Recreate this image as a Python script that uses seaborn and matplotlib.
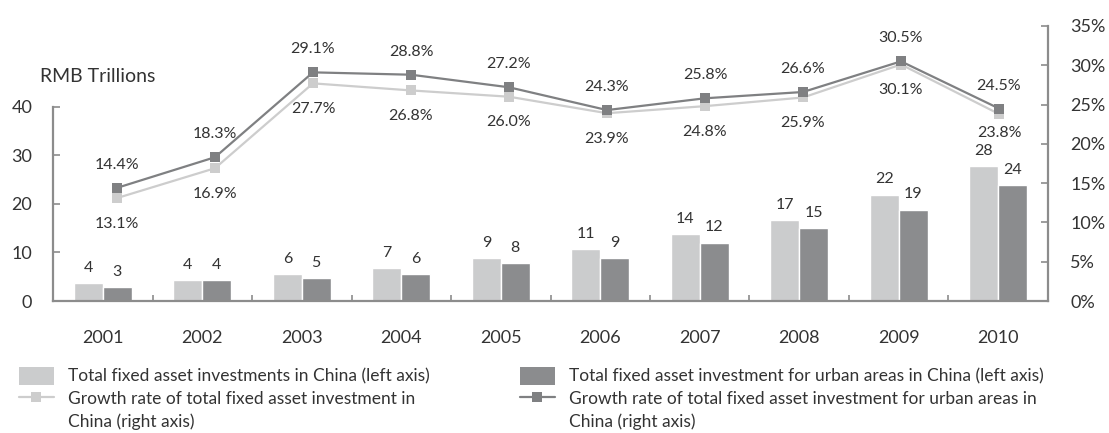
import matplotlib
matplotlib.use('Agg')
import matplotlib.pyplot as plt
import seaborn as sns
import pandas as pd
import numpy as np
from matplotlib.patches import Patch
from matplotlib.lines import Line2D
from matplotlib.ticker import FuncFormatter

years = ['2001', '2002', '2003', '2004', '2005', '2006', '2007', '2008', '2009', '2010']
total_inv = [3.7, 4.3, 5.6, 6.8, 8.9, 10.7, 13.8, 16.7, 21.9, 27.8]
urban_inv = [2.9, 4.3, 4.7, 5.6, 7.8, 8.9, 12.0, 15.05, 18.8, 23.9]
total_growth = [13.1, 16.9, 27.7, 26.8, 26.0, 23.9, 24.8, 25.9, 30.1, 23.8]
urban_growth = [14.4, 18.3, 29.1, 28.8, 27.2, 24.3, 25.8, 26.6, 30.5, 24.5]
left_ticks = [0, 10, 20, 30, 40]
right_ticks = [0, 5, 10, 15, 20, 25, 30, 35]

lab_total_bar = 'Total fixed asset investments in China (left axis)'
lab_urban_bar = 'Total fixed asset investment for urban areas in China (left axis)'
lab_total_line = 'Growth rate of total fixed asset investment in'
lab_urban_line = 'Growth rate of total fixed asset investment for urban areas in'
lab_cont = 'China (right axis)'

sns.set_theme(style='white')
plt.rcParams['font.family'] = ['Lato', 'DejaVu Sans']

TXT = '#333333'
LIGHT = '#cbcccd'
DARK = '#8b8c8e'
LIGHT_LINE = '#cdcdcd'
DARK_LINE = '#7f8082'
SPINE = '#8c8c8c'

fig = plt.figure(figsize=(11.09, 4.33), dpi=100)
fig.subplots_adjust(left=53/1109, right=1048/1109, bottom=132/433, top=407/433)
ax = fig.add_subplot(111)

df = pd.DataFrame({
    'year': years * 2,
    'value': total_inv + urban_inv,
    'series': [lab_total_bar] * len(years) + [lab_urban_bar] * len(years),
})
sns.barplot(data=df, x='year', y='value', hue='series', palette=[LIGHT, DARK],
            width=0.58, saturation=1, ax=ax, legend=False)
for c in ax.containers:
    ax.bar_label(c, fmt='%.0f', padding=6, fontsize=11.5, color=TXT)

ax.set_xlim(-0.5, 9.5)
ax.set_ylim(0, 56.7)
ax.set_yticks(left_ticks)
ax.set_xlabel('')
ax.set_ylabel('')
for s in ['top', 'right']:
    ax.spines[s].set_visible(False)
for s in ['left', 'bottom']:
    ax.spines[s].set_color(SPINE)
    ax.spines[s].set_linewidth(1.6)
ax.spines['left'].set_bounds(0, 40)
ax.tick_params(axis='y', direction='in', length=5, width=1.2, color=SPINE,
               labelsize=13, labelcolor=TXT, pad=15, left=True)
ax.tick_params(axis='x', which='major', length=0, labelsize=13, labelcolor=TXT, pad=21)
ax.set_xticks(np.arange(0.5, 9.5, 1.0), minor=True)
ax.tick_params(axis='x', which='minor', direction='in', length=4.5, width=1.2,
               color=SPINE, bottom=True)

ax2 = fig.add_axes(ax.get_position())
ax2.patch.set_visible(False)
xpos = np.arange(len(years))
sns.lineplot(x=xpos, y=np.array(total_growth) / 100, ax=ax2, color=LIGHT_LINE,
             marker='s', markersize=7, markeredgewidth=0, linewidth=1.6)
sns.lineplot(x=xpos, y=np.array(urban_growth) / 100, ax=ax2, color=DARK_LINE,
             marker='s', markersize=7, markeredgewidth=0, linewidth=1.6)
ax2.set_xlim(-0.653, 9.5)
ax2.set_ylim(0, 0.35)
ax2.set_yticks(np.array(right_ticks) / 100)
ax2.yaxis.set_major_formatter(FuncFormatter(lambda v, p: f'{v*100:.0f}%'))
ax2.yaxis.tick_right()
ax2.xaxis.set_visible(False)
for s in ['top', 'left', 'bottom']:
    ax2.spines[s].set_visible(False)
ax2.spines['right'].set_color(SPINE)
ax2.spines['right'].set_linewidth(1.6)
ax2.tick_params(axis='y', direction='in', length=5, width=1.2, color=SPINE,
                labelsize=13, labelcolor=TXT, pad=16, right=True, left=False)

for x, v in zip(xpos, urban_growth):
    ax2.annotate(f'{v:.1f}%', (x, v / 100), xytext=(0, 16.5), textcoords='offset points',
                 ha='center', va='center', fontsize=11.5, color=TXT)
n = len(xpos)
for i, (x, v) in enumerate(zip(xpos, total_growth)):
    dy = -13.5 if i == n - 1 else -18.5
    ax2.annotate(f'{v:.1f}%', (x, v / 100), xytext=(0, dy), textcoords='offset points',
                 ha='center', va='center', fontsize=11.5, color=TXT)

fig.text(40/1109, 1 - 77/433, 'RMB Trillions', ha='left', va='center', fontsize=14, color=TXT)

blank = Line2D([], [], alpha=0)
leg_kw = dict(loc='upper left', frameon=False, fontsize=12.5, handlelength=2.0,
              handleheight=1.2, handletextpad=0.8, labelspacing=0.27,
              borderpad=0, borderaxespad=0, labelcolor=TXT)
h1 = [Patch(fc=LIGHT, ec='none'),
      Line2D([], [], color=LIGHT_LINE, marker='s', markersize=7, markeredgewidth=0, lw=1.6),
      blank]
h2 = [Patch(fc=DARK, ec='none'),
      Line2D([], [], color=DARK_LINE, marker='s', markersize=7, markeredgewidth=0, lw=1.6),
      blank]
fig.legend(handles=h1, labels=[lab_total_bar, lab_total_line, lab_cont],
           bbox_to_anchor=(19/1109, 1 - 367/433), **leg_kw)
fig.legend(handles=h2, labels=[lab_urban_bar, lab_urban_line, lab_cont],
           bbox_to_anchor=(520/1109, 1 - 367/433), **leg_kw)

fig.savefig('out.png', dpi=100)
